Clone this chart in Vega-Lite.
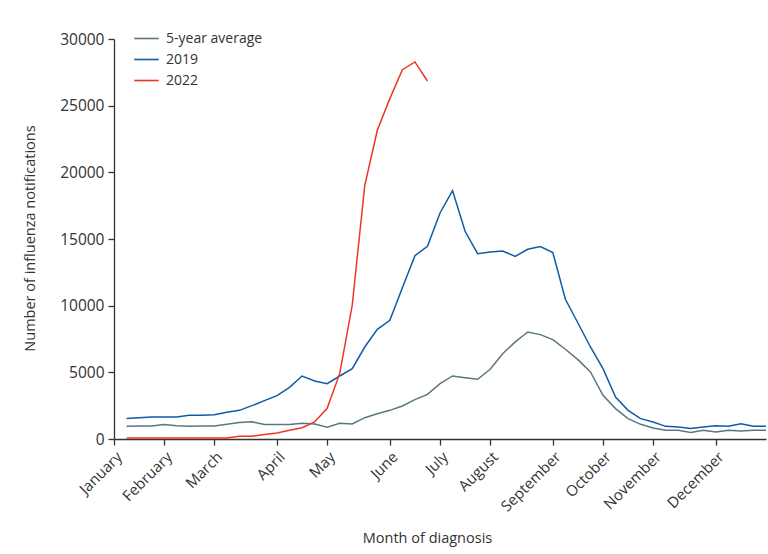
{
  "$schema": "https://vega.github.io/schema/vega-lite/v6.json",
  "width": 652,
  "height": 400,
  "autosize": {"type": "none"},
  "padding": {"left": 114, "top": 39, "right": 2, "bottom": 115},
  "background": "white",
  "config": {
    "view": {"stroke": null},
    "font": "Open Sans",
    "axis": {"grid": false, "domainColor": "#333", "tickColor": "#333", "domainWidth": 1.3, "tickWidth": 1.3, "tickSize": 6, "labelColor": "#333", "titleColor": "#333", "labelFontSize": 15, "titleFontSize": 14.5, "titleFontWeight": "normal", "labelFont": "Open Sans", "titleFont": "Open Sans"}
  },
  "data": {"values": [
    {"week":1,"series":"5-year average","value":950},{"week":2,"series":"5-year average","value":980},{"week":3,"series":"5-year average","value":980},{"week":4,"series":"5-year average","value":1080},{"week":5,"series":"5-year average","value":1000},{"week":6,"series":"5-year average","value":950},{"week":7,"series":"5-year average","value":980},{"week":8,"series":"5-year average","value":980},{"week":9,"series":"5-year average","value":1100},{"week":10,"series":"5-year average","value":1230},{"week":11,"series":"5-year average","value":1300},{"week":12,"series":"5-year average","value":1080},{"week":13,"series":"5-year average","value":1080},{"week":14,"series":"5-year average","value":1080},{"week":15,"series":"5-year average","value":1180},{"week":16,"series":"5-year average","value":1130},{"week":17,"series":"5-year average","value":880},{"week":18,"series":"5-year average","value":1180},{"week":19,"series":"5-year average","value":1130},{"week":20,"series":"5-year average","value":1600},{"week":21,"series":"5-year average","value":1900},{"week":22,"series":"5-year average","value":2150},{"week":23,"series":"5-year average","value":2480},{"week":24,"series":"5-year average","value":2950},{"week":25,"series":"5-year average","value":3350},{"week":26,"series":"5-year average","value":4150},{"week":27,"series":"5-year average","value":4730},{"week":28,"series":"5-year average","value":4600},{"week":29,"series":"5-year average","value":4480},{"week":30,"series":"5-year average","value":5230},{"week":31,"series":"5-year average","value":6400},{"week":32,"series":"5-year average","value":7280},{"week":33,"series":"5-year average","value":8030},{"week":34,"series":"5-year average","value":7830},{"week":35,"series":"5-year average","value":7450},{"week":36,"series":"5-year average","value":6730},{"week":37,"series":"5-year average","value":5950},{"week":38,"series":"5-year average","value":5030},{"week":39,"series":"5-year average","value":3280},{"week":40,"series":"5-year average","value":2280},{"week":41,"series":"5-year average","value":1530},{"week":42,"series":"5-year average","value":1100},{"week":43,"series":"5-year average","value":830},{"week":44,"series":"5-year average","value":650},{"week":45,"series":"5-year average","value":650},{"week":46,"series":"5-year average","value":480},{"week":47,"series":"5-year average","value":650},{"week":48,"series":"5-year average","value":530},{"week":49,"series":"5-year average","value":650},{"week":50,"series":"5-year average","value":600},{"week":51,"series":"5-year average","value":650},{"week":52,"series":"5-year average","value":650},
    {"week":1,"series":"2019","value":1530},{"week":2,"series":"2019","value":1600},{"week":3,"series":"2019","value":1650},{"week":4,"series":"2019","value":1650},{"week":5,"series":"2019","value":1650},{"week":6,"series":"2019","value":1775},{"week":7,"series":"2019","value":1775},{"week":8,"series":"2019","value":1825},{"week":9,"series":"2019","value":2000},{"week":10,"series":"2019","value":2150},{"week":11,"series":"2019","value":2500},{"week":12,"series":"2019","value":2875},{"week":13,"series":"2019","value":3250},{"week":14,"series":"2019","value":3875},{"week":15,"series":"2019","value":4725},{"week":16,"series":"2019","value":4350},{"week":17,"series":"2019","value":4150},{"week":18,"series":"2019","value":4725},{"week":19,"series":"2019","value":5275},{"week":20,"series":"2019","value":6900},{"week":21,"series":"2019","value":8225},{"week":22,"series":"2019","value":8900},{"week":23,"series":"2019","value":11350},{"week":24,"series":"2019","value":13750},{"week":25,"series":"2019","value":14450},{"week":26,"series":"2019","value":16950},{"week":27,"series":"2019","value":18630},{"week":28,"series":"2019","value":15580},{"week":29,"series":"2019","value":13900},{"week":30,"series":"2019","value":14030},{"week":31,"series":"2019","value":14100},{"week":32,"series":"2019","value":13700},{"week":33,"series":"2019","value":14230},{"week":34,"series":"2019","value":14430},{"week":35,"series":"2019","value":13980},{"week":36,"series":"2019","value":10480},{"week":37,"series":"2019","value":8700},{"week":38,"series":"2019","value":6900},{"week":39,"series":"2019","value":5280},{"week":40,"series":"2019","value":3150},{"week":41,"series":"2019","value":2150},{"week":42,"series":"2019","value":1530},{"week":43,"series":"2019","value":1280},{"week":44,"series":"2019","value":950},{"week":45,"series":"2019","value":900},{"week":46,"series":"2019","value":780},{"week":47,"series":"2019","value":900},{"week":48,"series":"2019","value":1000},{"week":49,"series":"2019","value":950},{"week":50,"series":"2019","value":1150},{"week":51,"series":"2019","value":950},{"week":52,"series":"2019","value":950},
    {"week":1,"series":"2022","value":80},{"week":2,"series":"2022","value":80},{"week":3,"series":"2022","value":80},{"week":4,"series":"2022","value":80},{"week":5,"series":"2022","value":80},{"week":6,"series":"2022","value":80},{"week":7,"series":"2022","value":80},{"week":8,"series":"2022","value":80},{"week":9,"series":"2022","value":80},{"week":10,"series":"2022","value":200},{"week":11,"series":"2022","value":200},{"week":12,"series":"2022","value":330},{"week":13,"series":"2022","value":450},{"week":14,"series":"2022","value":650},{"week":15,"series":"2022","value":850},{"week":16,"series":"2022","value":1280},{"week":17,"series":"2022","value":2300},{"week":18,"series":"2022","value":4900},{"week":19,"series":"2022","value":10030},{"week":20,"series":"2022","value":19030},{"week":21,"series":"2022","value":23150},{"week":22,"series":"2022","value":25530},{"week":23,"series":"2022","value":27700},{"week":24,"series":"2022","value":28280},{"week":25,"series":"2022","value":26850}
  ]},
  "mark": {"type": "line", "strokeWidth": 1.5},
  "encoding": {
    "x": {"field": "week", "type": "quantitative",
      "scale": {"domain": [0, 52], "nice": false, "zero": false},
      "axis": {"values": [0,4,8,13,17,22,26,30,35,39,43,48], "labelAngle": -45, "labelAlign": "right", "labelBaseline": "top", "labelPadding": 4, "labelOverlap": false, "labelFontSize": 15,
        "labelExpr": "{'0':'January','4':'February','8':'March','13':'April','17':'May','22':'June','26':'July','30':'August','35':'September','39':'October','43':'November','48':'December'}[datum.value + '']",
        "title": "Month of diagnosis", "titleX": 313, "titleAlign": "center", "titleY": 99, "titleBaseline": "middle"}},
    "y": {"field": "value", "type": "quantitative",
      "scale": {"domain": [0, 30000], "nice": false},
      "axis": {"values": [0,5000,10000,15000,20000,25000,30000], "format": "d", "labelPadding": 4, "labelFontSize": 15.5,
        "title": "Number of influenza notifications", "titleX": -84, "titleY": 199, "titleBaseline": "middle", "titleAngle": -90}},
    "color": {"field": "series", "type": "nominal",
      "scale": {"domain": ["5-year average", "2019", "2022"], "range": ["#5b7682", "#0e5ba6", "#ee3428"]},
      "legend": {"title": null, "orient": "none", "legendX": 19, "legendY": -9, "symbolType": "stroke", "symbolSize": 600, "symbolStrokeWidth": 1.6, "labelFontSize": 14, "labelColor": "#333", "labelFont": "Open Sans", "clipHeight": 17, "rowPadding": 4, "labelOffset": 6}}
  }
}
